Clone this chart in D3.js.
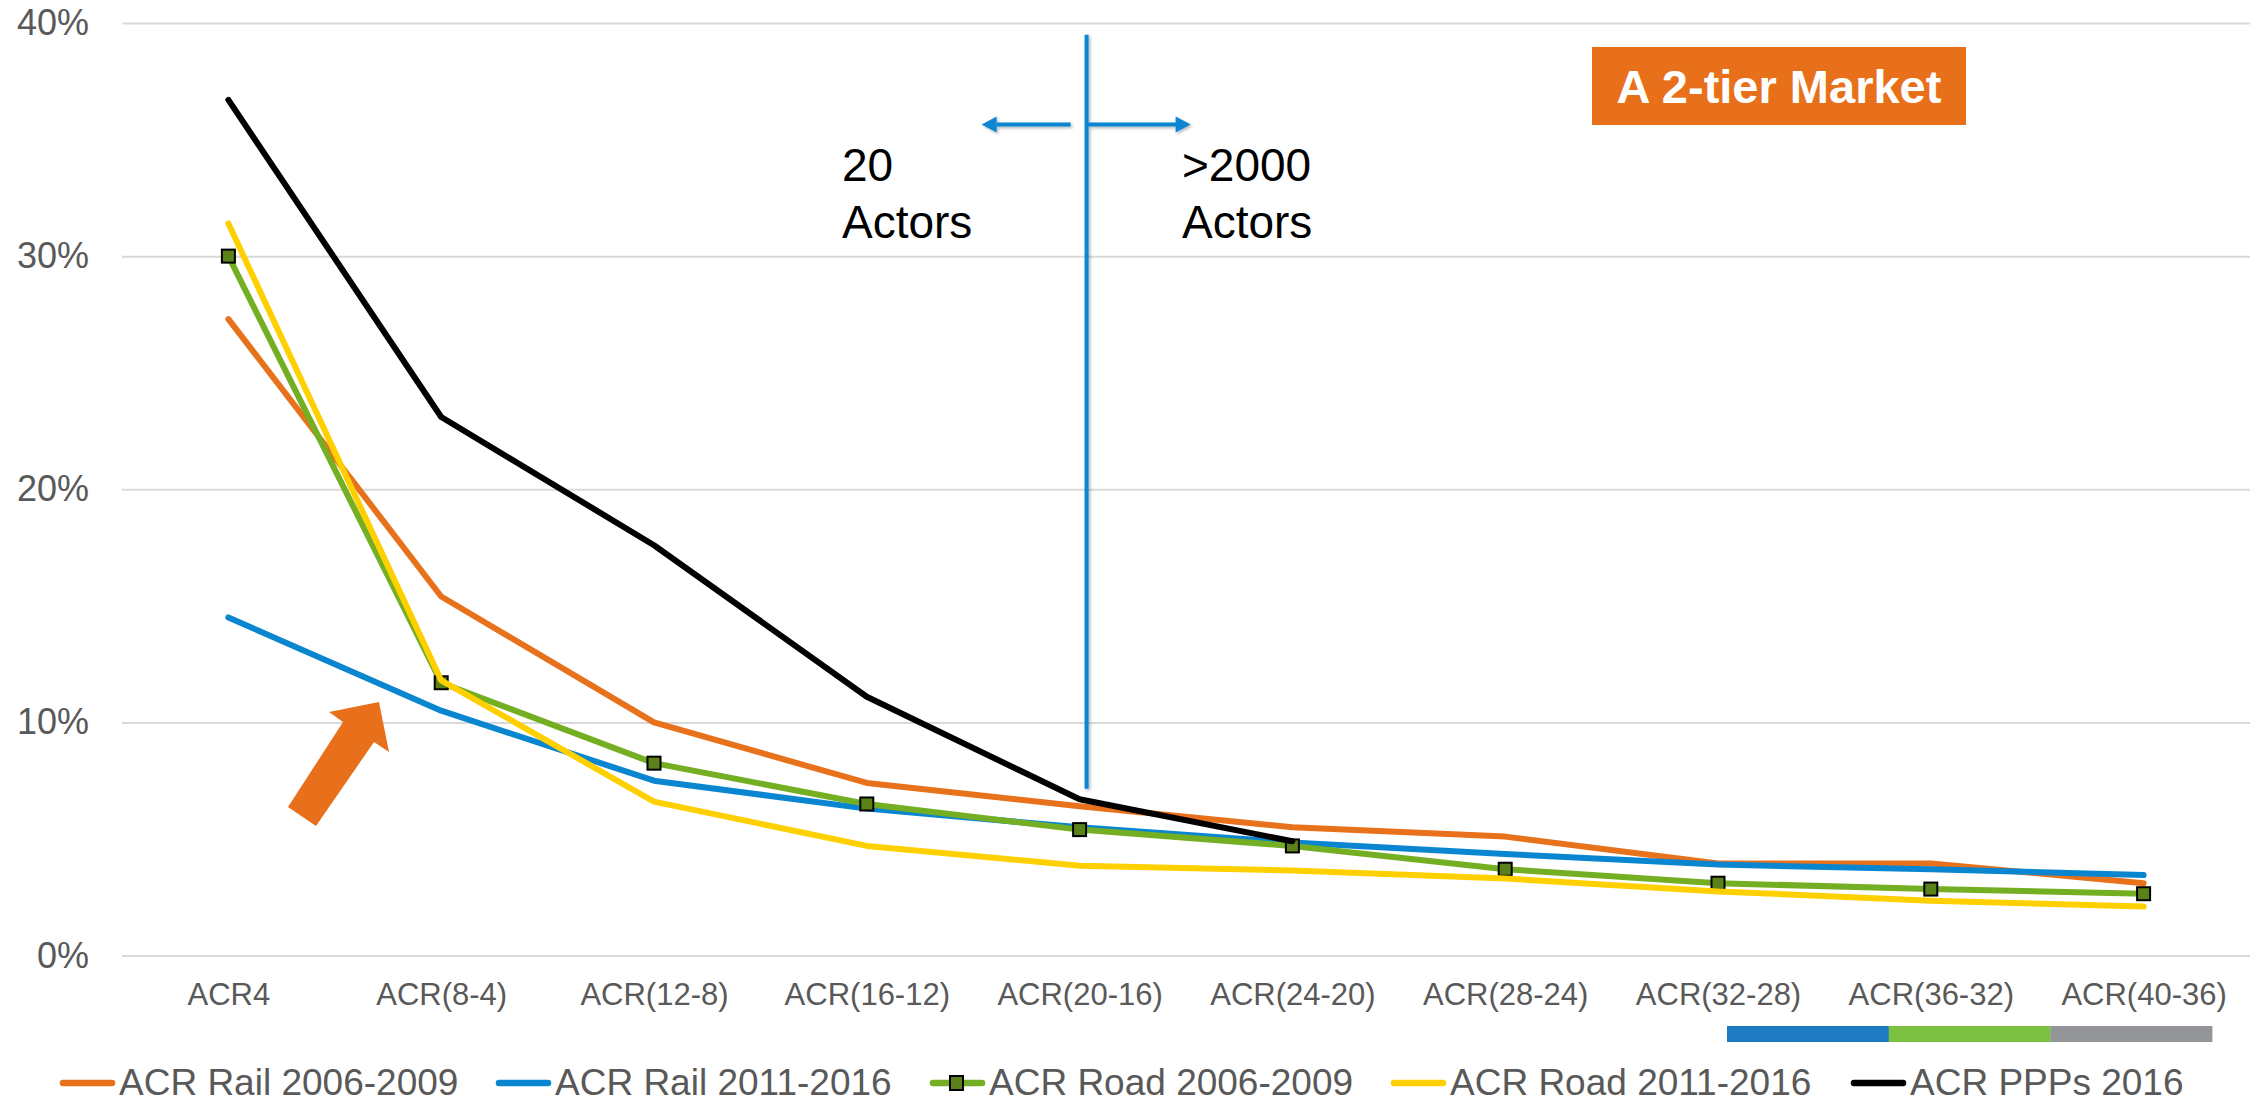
<!DOCTYPE html>
<html>
<head>
<meta charset="utf-8">
<script src="https://cdn.jsdelivr.net/npm/d3@7"></script>
<style>
  body { margin: 0; background: #fff; }
  svg { display: block; font-family: "Liberation Sans", Arial, sans-serif; }
</style>
</head>
<body>
<div id="chart"></div>
<script>
// categories and series values (percent)
var categories = ["ACR4", "ACR(8-4)", "ACR(12-8)", "ACR(16-12)", "ACR(20-16)",
                  "ACR(24-20)", "ACR(28-24)", "ACR(32-28)", "ACR(36-32)", "ACR(40-36)"];
var rail0609 = [27.3, 15.4, 10.0, 7.4, 6.4, 5.5, 5.1, 3.95, 3.95, 3.1];
var rail1116 = [14.5, 10.5, 7.5, 6.3, 5.5, 4.85, 4.35, 3.9, 3.7, 3.45];
var road0609 = [30.0, 11.7, 8.25, 6.5, 5.4, 4.7, 3.7, 3.1, 2.85, 2.65];
var road1116 = [31.4, 11.8, 6.6, 4.7, 3.85, 3.65, 3.3, 2.75, 2.35, 2.1];
var ppp2016  = [36.7, 23.1, 17.6, 11.1, 6.7, 4.9, null, null, null, null];
var seriesNames = ["ACR Rail 2006-2009", "ACR Rail 2011-2016", "ACR Road 2006-2009",
                   "ACR Road 2011-2016", "ACR PPPs 2016"];
var yTicks = [0, 10, 20, 30, 40];

function lineChart(){
    var W = 2262, H = 1104;
    var margin = {top: 23, right: 12, bottom: 148.5, left: 122};
    var width = W - margin.left - margin.right;
    var height = H - margin.top - margin.bottom;

    var colors = ["#e8711c", "#0a86d1", "#74ae22", "#ffd000", "#000000"];
    var allSeries = [rail0609, rail1116, road0609, road1116, ppp2016];

    var x = d3.scalePoint().domain(categories).range([0, width]).padding(0.5);
    var y = d3.scaleLinear().domain([0, 40]).range([height, 0]);

    var svg = d3.select("#chart").append("svg")
        .attr("width", W).attr("height", H);

    var defs = svg.append("defs");
    defs.append("filter").attr("id", "shadow")
        .attr("x", "-20%").attr("y", "-50%").attr("width", "140%").attr("height", "200%")
      .append("feDropShadow")
        .attr("dx", 1.5).attr("dy", 1.5).attr("stdDeviation", 1.5)
        .attr("flood-color", "#000").attr("flood-opacity", 0.3);

    var g = svg.append("g")
        .attr("transform", "translate(" + margin.left + "," + margin.top + ")");

    // gridlines + y labels
    var yAxis = g.append("g")
        .call(d3.axisLeft(y).tickValues(yTicks).tickSize(-width).tickPadding(33)
              .tickFormat(function(d){ return d + "%"; }));
    yAxis.select(".domain").remove();
    yAxis.selectAll("line").attr("stroke", "#d9d9d9").attr("stroke-width", 2);
    yAxis.selectAll("text").attr("fill", "#595959").attr("font-size", 36)
        .attr("font-family", "'Liberation Sans', Arial, sans-serif");

    // x labels
    var xAxis = g.append("g")
        .attr("transform", "translate(0," + height + ")")
        .call(d3.axisBottom(x).tickSize(0).tickPadding(27));
    xAxis.select(".domain").remove();
    xAxis.selectAll("text").attr("fill", "#595959").attr("font-size", 31)
        .attr("font-family", "'Liberation Sans', Arial, sans-serif");

    // divider line and arrows
    var xd = x(categories[4]) + 7;
    var ann = g.append("g").attr("filter", "url(#shadow)");
    ann.append("line")
        .attr("x1", xd).attr("x2", xd)
        .attr("y1", y(39.5)).attr("y2", y(7.15))
        .attr("stroke", "#0a86d1").attr("stroke-width", 4);
    var ay = y(35.65);
    ann.append("line").attr("x1", xd - 16).attr("x2", xd - 90)
        .attr("y1", ay).attr("y2", ay).attr("stroke", "#0a86d1").attr("stroke-width", 4);
    ann.append("path")
        .attr("d", "M" + (xd - 105) + "," + ay + "L" + (xd - 90) + "," + (ay - 8) +
                   "L" + (xd - 90) + "," + (ay + 8) + "Z")
        .attr("fill", "#0a86d1");
    ann.append("line").attr("x1", xd + 1).attr("x2", xd + 90)
        .attr("y1", ay).attr("y2", ay).attr("stroke", "#0a86d1").attr("stroke-width", 4);
    ann.append("path")
        .attr("d", "M" + (xd + 104) + "," + ay + "L" + (xd + 89) + "," + (ay - 8) +
                   "L" + (xd + 89) + "," + (ay + 8) + "Z")
        .attr("fill", "#0a86d1");

    // series lines
    var line = d3.line()
        .defined(function(d){ return d != null; })
        .x(function(d, i){ return x(categories[i]); })
        .y(function(d){ return y(d); });

    allSeries.forEach(function(s, k){
        g.append("path")
            .datum(s)
            .attr("fill", "none")
            .attr("stroke", colors[k])
            .attr("stroke-width", 6)
            .attr("stroke-linejoin", "round")
            .attr("stroke-linecap", "round")
            .attr("d", line);
        if (k == 2) {
            g.selectAll(".mk")
              .data(s)
              .enter().append("rect")
                .attr("class", "mk")
                .attr("x", function(d, i){ return x(categories[i]) - 6.5; })
                .attr("y", function(d){ return y(d) - 6.5; })
                .attr("width", 13).attr("height", 13)
                .attr("fill", "#5a8218").attr("stroke", "#000").attr("stroke-width", 2);
        }
    });

    // orange pointer arrow
    svg.append("polygon")
        .attr("points", "379,702 389,752 374,742 316,826 288,807 343,722 329,712")
        .attr("fill", "#e8701a");

    // text annotations
    var t1 = svg.append("text").attr("x", 842).attr("y", 181)
        .attr("font-size", 46).attr("fill", "#000");
    t1.append("tspan").attr("x", 842).text("20");
    t1.append("tspan").attr("x", 842).attr("dy", 57).text("Actors");
    var t2 = svg.append("text").attr("x", 1182).attr("y", 181)
        .attr("font-size", 46).attr("fill", "#000");
    t2.append("tspan").attr("x", 1182).text(">2000");
    t2.append("tspan").attr("x", 1182).attr("dy", 57).text("Actors");

    // "A 2-tier Market" box
    svg.append("rect").attr("x", 1592).attr("y", 47).attr("width", 374).attr("height", 78)
        .attr("fill", "#e8701a");
    svg.append("text").attr("x", 1779).attr("y", 103).attr("text-anchor", "middle")
        .attr("font-size", 47).attr("font-weight", "bold").attr("fill", "#fff")
        .text("A 2-tier Market");

    // colour bar under the axis
    var barCols = ["#1f7bc1", "#7cc142", "#939598"];
    svg.selectAll(".cb").data(barCols).enter().append("rect")
        .attr("x", function(d, i){ return 1727 + i * 161.7; })
        .attr("y", 1026).attr("width", 162).attr("height", 16)
        .attr("fill", function(d){ return d; });

    // legend
    var legX = [60, 496, 930, 1391, 1851];
    var ly = 1083;
    var leg = svg.selectAll(".leg").data(seriesNames).enter().append("g")
        .attr("class", "leg")
        .attr("transform", function(d, i){ return "translate(" + legX[i] + "," + ly + ")"; });
    leg.append("line")
        .attr("x1", 3).attr("x2", 52).attr("y1", 0).attr("y2", 0)
        .attr("stroke", function(d, i){ return colors[i]; })
        .attr("stroke-width", 6.5).attr("stroke-linecap", "round");
    leg.filter(function(d, i){ return i == 2; }).append("rect")
        .attr("x", 20).attr("y", -7).attr("width", 13).attr("height", 14)
        .attr("fill", "#5a8218").attr("stroke", "#000").attr("stroke-width", 2);
    leg.append("text")
        .attr("x", 59).attr("y", 12)
        .attr("font-size", 37).attr("fill", "#595959")
        .text(function(d){ return d; });
}

lineChart();
</script>
</body>
</html>
